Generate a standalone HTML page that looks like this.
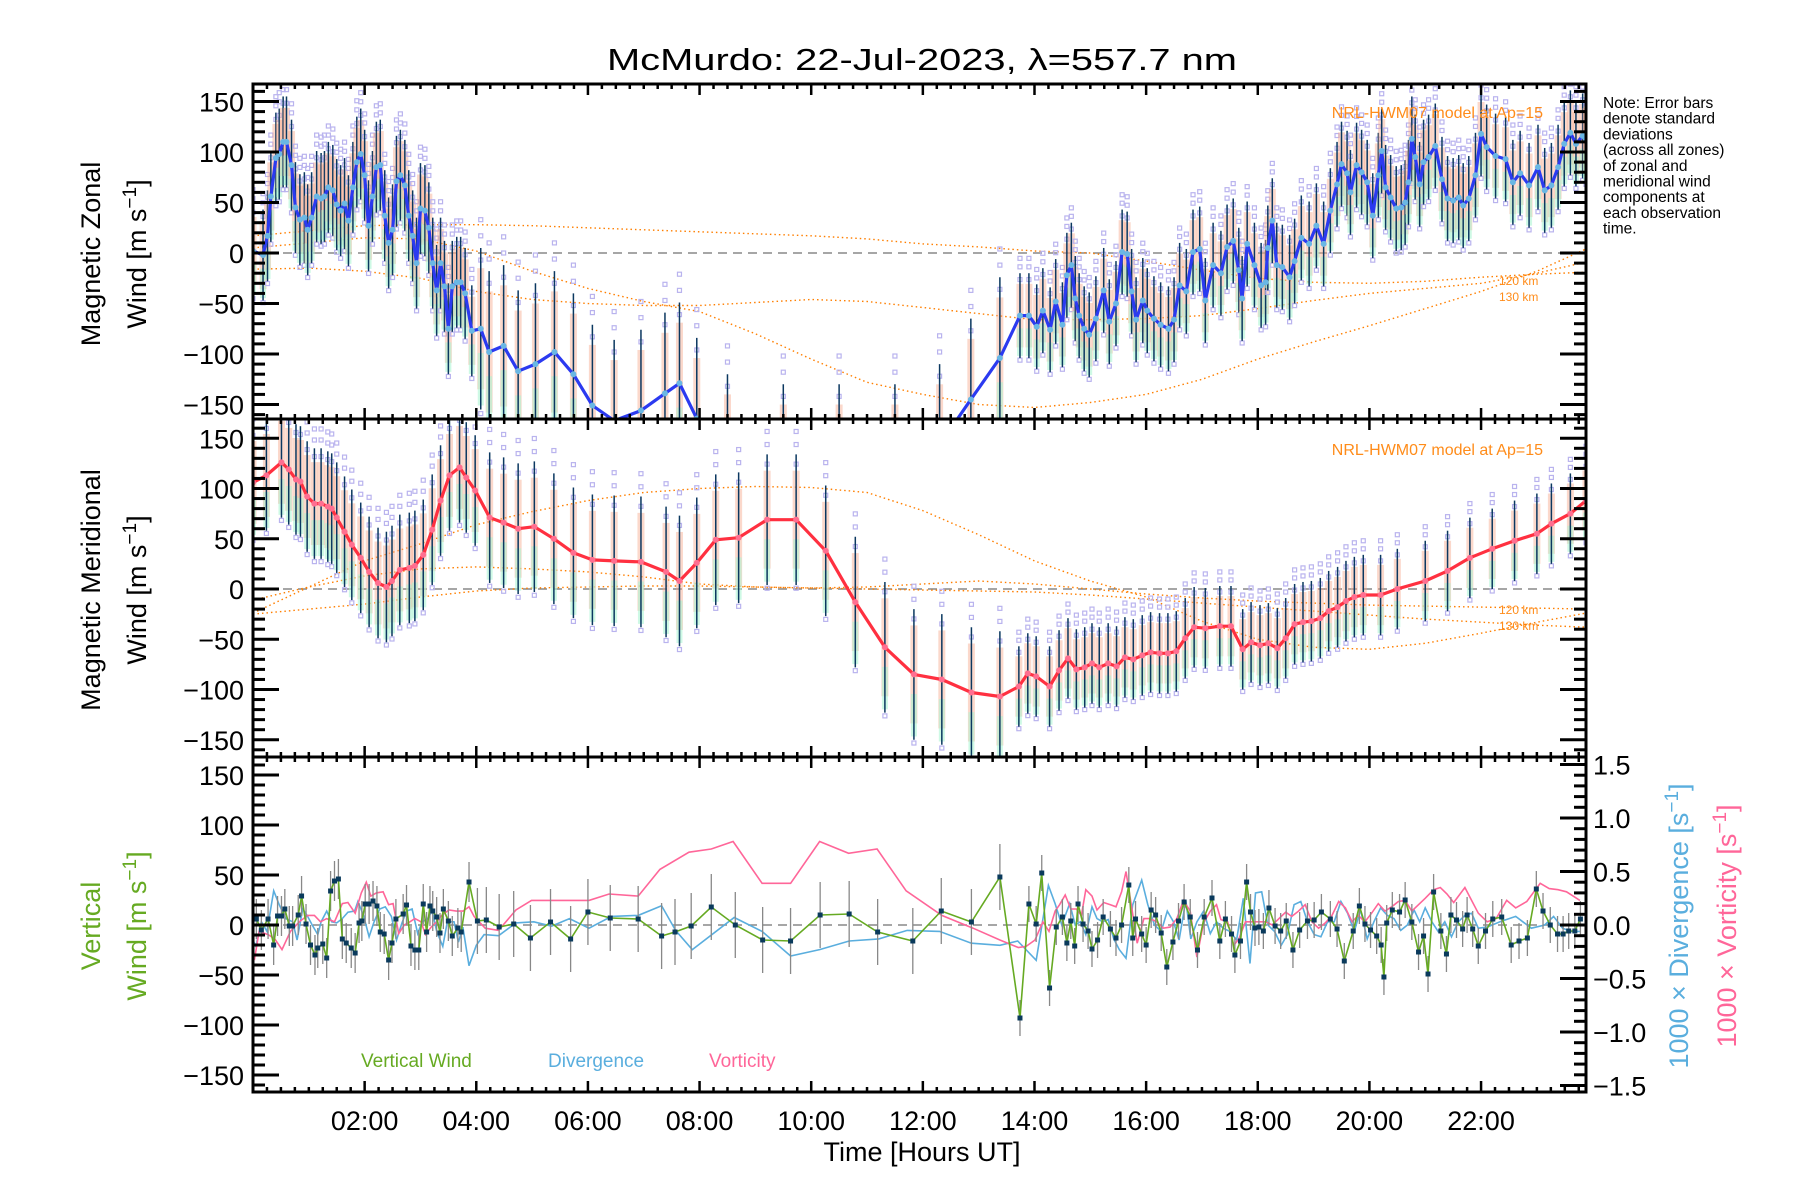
<!DOCTYPE html>
<html><head><meta charset="utf-8"><style>
html,body{margin:0;padding:0;background:#fff;}
svg{display:block;}
text{font-family:"Liberation Sans",sans-serif;}
</style></head><body>
<svg id="chart" xmlns="http://www.w3.org/2000/svg" width="1800" height="1200" viewBox="0 0 1800 1200">
<rect x="0" y="0" width="1800" height="1200" fill="#fff"/>
<text x="922" y="70" font-size="31" text-anchor="middle" textLength="630" lengthAdjust="spacingAndGlyphs">McMurdo: 22-Jul-2023, λ=557.7 nm</text>
<g id="layer"></g>
</svg>
<script>
// ---- data ----
const zonalHours=[0,0.18,0.26,0.32,0.41,0.47,0.54,0.6,0.69,0.76,0.84,0.92,0.98,1.05,1.14,1.22,1.28,1.35,1.43,1.5,1.57,1.64,1.71,1.79,1.86,1.93,2,2.07,2.14,2.21,2.28,2.36,2.43,2.5,2.57,2.64,2.72,2.79,2.86,2.93,3,3.08,3.15,3.22,3.29,3.36,3.43,3.5,3.57,3.65,3.72,3.8,3.92,4.08,4.23,4.49,4.75,5.06,5.4,5.74,6.08,6.47,6.95,7.38,7.64,7.95,8.5,9.5,10.5,11.5,12.3,12.86,13.38,13.74,13.9,14.04,14.15,14.28,14.38,14.5,14.58,14.66,14.73,14.8,14.89,14.98,15.1,15.24,15.34,15.46,15.57,15.66,15.74,15.82,15.94,16.02,16.14,16.26,16.4,16.5,16.6,16.72,16.84,16.96,17.06,17.2,17.34,17.45,17.56,17.66,17.72,17.81,17.94,18.06,18.14,18.18,18.26,18.34,18.44,18.57,18.66,18.78,18.92,19.05,19.18,19.3,19.42,19.5,19.6,19.66,19.77,19.86,19.96,20.06,20.16,20.22,20.29,20.38,20.48,20.57,20.64,20.7,20.76,20.82,20.9,20.97,21.06,21.18,21.3,21.4,21.5,21.6,21.68,21.78,21.9,22,22.1,22.26,22.44,22.57,22.7,22.86,23.02,23.14,23.26,23.38,23.49,23.6,23.7,23.82,23.88];
const zonalValues=[2,-2,17,56,94,98,110,110,87,45,33,35,23,35,56,54,56,65,62,48,42,49,32,65,90,98,77,27,56,85,87,37,10,23,71,77,67,37,17,-10,44,42,25,-10,-37,-10,-33,-75,-33,-29,-29,-40,-77,-75,-98,-92,-117,-110,-98,-120,-151,-166,-156,-139,-129,-164,-200,-210,-210,-210,-190,-145,-104,-62,-62,-73,-57,-76,-48,-71,-22,-12,-45,-62,-75,-81,-65,-37,-68,-50,1,-1,-38,-66,-47,-57,-65,-71,-75,-66,-32,-38,1,4,-47,-12,-20,6,12,-17,-45,9,-12,-32,-29,5,32,-12,-14,-24,-8,15,9,27,9,42,68,88,79,60,87,80,70,37,77,101,65,55,44,45,50,70,113,95,68,90,95,106,73,54,52,55,47,54,77,118,105,96,93,70,79,67,85,62,67,85,108,119,108,116,112];
const meridHours=[0,0.24,0.51,0.64,0.77,0.85,0.97,1.1,1.22,1.34,1.41,1.5,1.64,1.77,1.93,2.08,2.24,2.39,2.49,2.63,2.8,2.9,3.05,3.21,3.36,3.52,3.7,3.82,3.98,4.24,4.49,4.75,5.04,5.39,5.74,6.08,6.47,6.95,7.4,7.64,7.95,8.29,8.7,9.21,9.73,10.26,10.79,11.32,11.84,12.34,12.87,13.38,13.72,13.88,14.03,14.27,14.44,14.6,14.75,14.9,15.03,15.16,15.32,15.47,15.62,15.77,15.93,16.08,16.24,16.39,16.54,16.7,16.86,17.06,17.32,17.52,17.73,17.88,18.04,18.19,18.35,18.5,18.66,18.81,18.96,19.12,19.27,19.43,19.58,19.73,19.89,20.2,20.5,21,21.4,21.8,22.2,22.6,23,23.26,23.6,23.88];
const meridValues=[106,113,126,119,109,107,92,85,85,82,80,71,57,44,31,17,6,2,8,19,21,23,34,59,88,113,121,111,98,71,66,60,62,50,36,29,28,27,17,8,26,49,51,69,69,38,-13,-58,-85,-90,-103,-107,-97,-84,-87,-97,-81,-69,-80,-78,-74,-78,-74,-77,-68,-70,-66,-63,-64,-64,-62,-49,-38,-39,-37,-37,-60,-53,-56,-54,-59,-49,-35,-33,-32,-29,-22,-18,-12,-8,-6,-6,0,8,18,31,40,48,55,65,75,88];
const vertHours=[0.06,0.15,0.27,0.37,0.44,0.51,0.57,0.65,0.71,0.81,0.87,0.95,1.03,1.11,1.16,1.25,1.32,1.39,1.46,1.53,1.6,1.67,1.76,1.83,1.9,1.95,2.01,2.08,2.15,2.22,2.28,2.35,2.43,2.49,2.56,2.69,2.75,2.83,2.9,2.97,3.05,3.11,3.17,3.22,3.29,3.35,3.41,3.5,3.57,3.67,3.73,3.87,4.02,4.18,4.41,4.67,4.97,5.33,5.69,6,6.4,6.9,7.32,7.56,7.85,8.21,8.64,9.13,9.63,10.16,10.68,11.19,11.82,12.33,12.87,13.38,13.74,13.9,14.03,14.13,14.27,14.39,14.5,14.58,14.65,14.72,14.78,14.87,14.96,15.03,15.13,15.23,15.36,15.46,15.56,15.69,15.76,15.81,15.92,16,16.09,16.17,16.27,16.37,16.48,16.58,16.68,16.79,16.92,17.04,17.18,17.32,17.42,17.53,17.59,17.69,17.8,17.87,17.95,18.02,18.1,18.2,18.31,18.41,18.51,18.63,18.75,18.89,19.01,19.14,19.3,19.42,19.55,19.71,19.82,19.92,20.02,20.13,20.21,20.26,20.31,20.41,20.54,20.64,20.76,20.88,20.97,21.05,21.15,21.28,21.38,21.46,21.56,21.67,21.75,21.85,21.95,22.08,22.21,22.37,22.54,22.68,22.83,22.99,23.11,23.24,23.37,23.47,23.57,23.68,23.78];
const vertValues=[6,-5,6,-20,9,9,16,-1,-1,10,29,1,-20,-30,-23,-19,-33,34,44,46,-14,-18,-23,-28,2,4,21,21,24,19,-7,-9,-35,-18,6,11,20,-21,-25,-25,21,-7,19,14,8,-8,16,4,-11,-3,-7,43,4,5,-2,1,-13,3,-14,13,7,6,-11,-7,-1,18,0,-15,-16,10,11,-7,-16,14,3,48,-93,21,1,52,-63,-2,8,-18,4,-21,21,1,-6,-24,-15,8,-4,-13,0,40,-13,6,-9,-20,15,10,-8,-42,-17,4,23,8,-25,8,27,-16,6,-9,-30,-16,43,13,-3,-2,-6,17,-1,-6,4,-25,-5,4,5,13,6,-4,-36,-6,19,1,-5,-11,-20,-52,2,15,13,25,3,-27,-11,-49,33,-6,-29,10,5,-4,10,-4,-21,-6,6,8,-20,-16,-13,36,14,0,-9,-9,-6,-6,6];
const divHours=[0,0.05,0.15,0.25,0.37,0.47,0.59,0.71,0.79,0.89,0.97,1.06,1.16,1.22,1.32,1.41,1.5,1.6,1.7,1.82,1.88,1.98,2.08,2.17,2.27,2.37,2.48,2.57,2.67,2.75,2.85,2.95,3.03,3.13,3.21,3.29,3.4,3.48,3.6,3.68,3.76,3.87,4,4.14,4.4,4.71,5.03,5.35,5.67,6.02,6.42,6.9,7.32,7.57,7.87,8.62,9.12,9.63,10.15,10.68,11.21,11.72,12.3,12.87,13.38,13.7,14.03,14.25,14.37,14.49,14.63,14.73,14.82,14.92,15.03,15.12,15.22,15.32,15.42,15.52,15.64,15.76,15.92,16.03,16.15,16.27,16.38,16.49,16.59,16.71,16.8,16.91,17.03,17.15,17.26,17.38,17.5,17.62,17.74,17.86,17.96,18.07,18.18,18.3,18.42,18.53,18.65,18.77,18.89,19.01,19.13,19.25,19.37,19.49,19.61,19.73,19.84,19.96,20.08,20.2,20.32,20.44,20.56,20.68,20.8,20.9,21,21.12,21.23,21.35,21.47,21.59,21.71,21.83,21.95,22.11,22.34,22.62,22.9,23.14,23.3,23.46,23.61,23.77];
const divValues=[-0.14,-0.2,0.03,-0.06,0.32,0.19,0.06,0.03,-0.14,0.15,0.09,0,-0.09,0.03,0.13,0.03,0.02,0.06,0.12,0.13,0.22,0.09,-0.11,0.03,0.15,0.17,0.08,-0.14,0.02,0.13,0.15,-0.08,0.03,0.06,0.13,-0.06,-0.2,0.03,0.03,-0.16,-0.02,-0.38,-0.19,-0.09,-0.1,0.02,0.03,-0.01,0.06,-0.03,0.08,0.09,0.18,-0.05,-0.23,0.07,-0.06,-0.29,-0.23,-0.15,-0.13,-0.05,-0.06,-0.17,-0.19,-0.15,-0.33,0.37,0.2,0,0.2,0,0.03,-0.09,0.17,0.06,0.03,0.05,-0.13,-0.23,-0.31,0.19,0.42,0.19,0,-0.06,0.13,0.03,-0.14,0.23,-0.13,0.03,0.13,-0.08,0.03,-0.03,-0.06,-0.14,0.25,-0.36,0.3,0.31,0,-0.06,-0.19,-0.09,0.19,0.22,0.03,-0.09,-0.11,0.03,0.03,0.22,0.11,-0.06,0.14,-0.13,0.03,0.16,0.09,0.06,-0.05,0,0.14,0.03,0.16,0.03,-0.06,0.03,-0.11,0.03,0.09,0.11,-0.03,-0.02,0.03,0.08,-0.03,0,0.08,-0.03,-0.06,-0.06];
const vortHours=[0,0.03,0.11,0.27,0.39,0.52,0.67,0.83,0.98,1.1,1.21,1.32,1.46,1.6,1.7,1.83,1.94,2.03,2.11,2.21,2.33,2.43,2.51,2.61,2.71,2.81,2.9,3.01,3.09,3.19,3.29,3.38,3.51,3.64,3.76,3.87,3.96,4.16,4.4,4.71,4.99,6.02,6.38,6.9,7.29,7.81,8.21,8.6,9.12,9.63,10.15,10.67,11.18,11.7,12.34,12.9,13.38,13.71,13.85,14.01,14.15,14.26,14.37,14.45,14.55,14.65,14.75,14.84,14.92,15.03,15.12,15.24,15.36,15.46,15.56,15.64,15.74,15.84,15.96,16.07,16.19,16.31,16.43,16.55,16.67,16.79,16.91,17.03,17.15,17.26,17.34,17.46,17.57,17.66,17.78,17.9,18.02,18.14,18.26,18.38,18.5,18.61,18.73,18.85,18.97,19.09,19.21,19.33,19.45,19.57,19.69,19.8,19.92,20.04,20.16,20.28,20.4,20.52,20.64,20.76,20.88,21,21.15,21.27,21.39,21.51,21.71,21.83,21.95,22.11,22.27,22.46,22.62,22.82,23.06,23.22,23.38,23.53,23.77];
const vortValues=[-0.28,-0.31,-0.06,-0.09,-0.13,-0.23,-0.06,0.03,0.09,0.09,0.03,0.06,0.03,0.2,0.21,0.11,0.3,0.4,0.27,0.3,0.31,0.19,0.2,-0.08,0,0.03,0.06,0.03,-0.09,-0.02,0.03,0.09,0.14,0.13,0.13,0.17,0.08,-0.03,-0.05,0.14,0.23,0.23,0.29,0.27,0.52,0.68,0.71,0.78,0.39,0.39,0.78,0.67,0.71,0.32,0.09,-0.03,-0.14,-0.21,-0.2,-0.14,0.03,-0.06,0.13,0.19,0.28,0.15,0.15,0.09,0.33,0.27,0.14,0.21,0.19,0.17,0.31,0.5,0.17,-0.17,0.06,0.06,0.03,-0.03,-0.02,0.06,0.23,0.13,-0.3,0.02,0.13,0.19,0.05,0.03,-0.19,-0.13,0.03,0.03,0.03,0.03,0,0.06,0.12,0.08,0.13,0.19,0.03,-0.03,0.02,0.09,0.22,0.16,0.03,0.09,0.03,0.11,0.2,0.13,0.17,0.22,0.23,0.13,0.19,0.25,0.33,0.35,0.29,0.21,0.35,0.23,0.11,0.03,0.06,0.23,0.16,0.22,0.39,0.34,0.33,0.31,0.23];
// model curves (NRL-HWM07)
const modelHours=[0,1,2,3,4,5,6,7,8,9,10,11,12,13,14,15,16,17,18,19,20,21,22,23,23.88];
const zonalModelA=[17,22,27,28,28,27,25,23,21,19,17,14,9,6,2,0,-8,-17,-25,-29,-30,-28,-24,-21,-19];
const zonalModelB=[-16,-15,-18,-25,-38,-46,-50,-52,-52,-49,-46,-48,-54,-60,-66,-66,-65,-62,-55,-47,-40,-35,-30,-20,-9];
const zonalModelC=[5,10,15,14,2,-18,-35,-48,-58,-80,-105,-128,-140,-150,-153,-148,-140,-125,-105,-88,-72,-55,-38,-18,4];
const meridModelD=[-11,2,13,20,22,20,17,12,5,2,1,2,5,8,5,0,-5,-9,-12,-14,-16,-17,-18,-19,-20];
const meridModelE=[-24,2,28,45,64,77,88,96,100,102,101,96,78,54,28,8,-8,-32,-50,-58,-60,-54,-44,-33,-24];
const meridModelF=[-25,-20,-15,-8,-2,1,2,3,3,2,1,0,-1,-2,-3,-6,-10,-14,-18,-22,-26,-30,-33,-36,-38];
const leftTicks=[150,100,50,0,-50,-100,-150];
const leftTickLabels=["150","100","50","0","−50","−100","−150"];
const rightTicks=[1.5,1.0,0.5,0.0,-0.5,-1.0,-1.5];
const rightTickLabels=["1.5","1.0","0.5","0.0","−0.5","−1.0","−1.5"];
const xTickHours=[2,4,6,8,10,12,14,16,18,20,22];
const xTickLabels=["02:00","04:00","06:00","08:00","10:00","12:00","14:00","16:00","18:00","20:00","22:00"];

// ---- geometry ----
const NS="http://www.w3.org/2000/svg";
const L=253,R=1586,H1=23.88;
const P=[{top:84,bot:419,zero:253,k:1.01},{top:419,bot:757,zero:589,k:1.005},{top:757,bot:1092,zero:925,k:1.0}];
const KR=107;
function xs(h){return L+h/H1*(R-L);}
function ys(p,v){return P[p].zero-v*P[p].k;}
function yr(v){return P[2].zero-v*KR;}
const layer=document.getElementById('layer');
function mk(tag,attrs,parent){const e=document.createElementNS(NS,tag);for(const k in attrs)e.setAttribute(k,attrs[k]);(parent||layer).appendChild(e);return e;}
const defs=mk('defs',{});
P.forEach((p,i)=>{const c=mk('clipPath',{id:'clip'+i},defs);mk('rect',{x:L,y:p.top,width:R-L,height:p.bot-p.top},c);});
function stdZ(h){return (h<4)?45:(h<13.6?80:42);}
function stdM(h){return (h<4)?55:(h<13.6?65:40);}
function stdV(h){return (h<4)?20:(h<13.6?33:18);}

function windPanel(pi,hours,vals,stdFn,lineColor,markColor,name){
  const g=mk('g',{'clip-path':'url(#clip'+pi+')'});
  
  
  for(let i=0;i<hours.length;i++){
    const h=hours[i],v=vals[i],s=stdFn(h),x=xs(h);
    const band=mk('rect',{x:x-3.5,y:ys(pi,v+0.75*s),width:7,height:1.5*s*P[pi].k,fill:'#f7a98c','fill-opacity':0.45},g);
    
    
    const band2=mk('rect',{x:x-3,y:ys(pi,v-0.3*s),width:6,height:0.65*s*P[pi].k,fill:'#aef5d4','fill-opacity':0.6},g);
    
    
    [1.15,0.85,-1.05,1.35].forEach(f=>{
      const sq=mk('rect',{x:x-2,y:ys(pi,v+f*s)-2,width:4,height:4,fill:'none',stroke:'#b9b3ee','stroke-width':1.2},g);
      
      
    });
    const eb=mk('line',{x1:x,x2:x,y1:ys(pi,v+s),y2:ys(pi,v-s),stroke:'#0b3860','stroke-width':1.5},g);
    
    
  }
  const pts=hours.map((h,i)=>xs(h).toFixed(1)+','+ys(pi,vals[i]).toFixed(1)).join(' ');
  const pl=mk('polyline',{points:pts,fill:'none',stroke:lineColor,'stroke-width':3.2,'stroke-linejoin':'round'},g);
  
  
  hours.forEach((h,i)=>{
    const c=mk('circle',{cx:xs(h),cy:ys(pi,vals[i]),r:3,fill:markColor},g);
    
    
  });
}
function modelCurve(pi,vals,name){
  const g=mk('g',{'clip-path':'url(#clip'+pi+')'});
  const pts=modelHours.map((h,i)=>xs(h).toFixed(1)+','+ys(pi,vals[i]).toFixed(1)).join(' ');
  const pl=mk('polyline',{points:pts,fill:'none',stroke:'#ff7f00','stroke-width':1.4,'stroke-dasharray':'1.5 3'},g);
  
  
}
// zero lines
P.forEach((p,i)=>{
  const z=mk('line',{x1:L,x2:R,y1:p.zero,y2:p.zero,stroke:'#888','stroke-width':1.5,'stroke-dasharray':'9 6'});
  
  
});
modelCurve(0,zonalModelA,'zonal-model-curve-a');
modelCurve(0,zonalModelB,'zonal-model-curve-b');
modelCurve(0,zonalModelC,'zonal-model-curve-c');
modelCurve(1,meridModelD,'meridional-model-curve-d');
modelCurve(1,meridModelE,'meridional-model-curve-e');
modelCurve(1,meridModelF,'meridional-model-curve-f');
windPanel(0,zonalHours,zonalValues,stdZ,'#2b3af0','#6ab7e4','zonal');
windPanel(1,meridHours,meridValues,stdM,'#ff3040','#ff6f90','meridional');

// panel 3
(function(){
  const g=mk('g',{'clip-path':'url(#clip2)'});
  
  
  const dp=divHours.map((h,i)=>xs(h).toFixed(1)+','+yr(divValues[i]).toFixed(1)).join(' ');
  const d=mk('polyline',{points:dp,fill:'none',stroke:'#5aaede','stroke-width':1.6},g);
  
  
  const vp=vortHours.map((h,i)=>xs(h).toFixed(1)+','+yr(vortValues[i]).toFixed(1)).join(' ');
  const w=mk('polyline',{points:vp,fill:'none',stroke:'#ff6699','stroke-width':1.6},g);
  
  
  vertHours.forEach((h,i)=>{
    const s=stdV(h);
    const eb=mk('line',{x1:xs(h),x2:xs(h),y1:ys(2,vertValues[i]+s),y2:ys(2,vertValues[i]-s),stroke:'#888','stroke-width':1.3},g);
    
    
  });
  const gp=vertHours.map((h,i)=>xs(h).toFixed(1)+','+ys(2,vertValues[i]).toFixed(1)).join(' ');
  const gl=mk('polyline',{points:gp,fill:'none',stroke:'#66aa22','stroke-width':1.6},g);
  
  
  vertHours.forEach((h,i)=>{
    const m=mk('rect',{x:xs(h)-2.5,y:ys(2,vertValues[i])-2.5,width:5,height:5,fill:'#0a3a5c'},g);
    
    
  });
})();

// axes
function txt(s,attrs,name){const t=mk('text',attrs);t.textContent=s;return t;}
P.forEach((p,pi)=>{
  const fr=mk('rect',{x:L,y:p.top,width:R-L,height:p.bot-p.top,fill:'none',stroke:'#000','stroke-width':3});
  
  
  for(let v=-160;v<=160;v+=10){
    const y=ys(pi,v); if(y<p.top+1||y>p.bot-1)continue;
    const len=(v%50===0)?26:12;
    mk('line',{x1:L,x2:L+len,y1:y,y2:y,stroke:'#000','stroke-width':3});
    if(pi<2) mk('line',{x1:R,x2:R-len,y1:y,y2:y,stroke:'#000','stroke-width':3});
  }
  leftTicks.forEach((v,i)=>{
    txt(leftTickLabels[i],{x:244,y:ys(pi,v)+10,'font-size':27,'text-anchor':'end'},'y-tick-label');
  });
  for(let q=0;q<=H1*4;q++){
    const h=q/4,x=xs(h);
    const major=(q%8===0)&&q>0;
    const len=major?11:5;
    mk('line',{x1:x,x2:x,y1:p.top,y2:p.top+len,stroke:'#000','stroke-width':2.5});
    mk('line',{x1:x,x2:x,y1:p.bot,y2:p.bot-len,stroke:'#000','stroke-width':2.5});
  }
});
for(let v=-15;v<=15;v++){
  const y=yr(v/10);
  const len=(v%5===0)?26:12;
  mk('line',{x1:R,x2:R-len,y1:y,y2:y,stroke:'#000','stroke-width':3});
}
rightTicks.forEach((v,i)=>{
  txt(rightTickLabels[i],{x:1593,y:yr(v)+10,'font-size':27},'right-tick-label');
});
xTickHours.forEach((h,i)=>{
  txt(xTickLabels[i],{x:xs(h),y:1130,'font-size':27,'text-anchor':'middle'},'x-tick-label');
});
txt('Time [Hours UT]',{x:922,y:1161,'font-size':27,'text-anchor':'middle'},'x-axis-title');

function ytitle(lines,cy,color,name){
  lines.forEach((l,i)=>{
    const t=mk('text',{transform:'translate('+l.x+','+cy+') rotate(-90)','font-size':27,'text-anchor':'middle',fill:color});
    
    
    t.innerHTML=l.s;
  });
}
const sup='[m s<tspan baseline-shift="super" font-size="19">−1</tspan>]';
ytitle([{x:100,s:'Magnetic Zonal'},{x:146,s:'Wind '+sup}],254,'#000','zonal-y-axis-title');
ytitle([{x:100,s:'Magnetic Meridional'},{x:146,s:'Wind '+sup}],590,'#000','meridional-y-axis-title');
ytitle([{x:100,s:'Vertical'},{x:146,s:'Wind '+sup}],926,'#66aa22','vertical-y-axis-title');
ytitle([{x:1688,s:'1000 × Divergence [s<tspan baseline-shift="super" font-size="19">−1</tspan>]'}],926,'#5aaede','divergence-axis-title');
ytitle([{x:1736,s:'1000 × Vorticity [s<tspan baseline-shift="super" font-size="19">−1</tspan>]'}],926,'#ff6699','vorticity-axis-title');

txt('NRL-HWM07 model at Ap=15',{x:1543,y:118,'font-size':16,fill:'#ff8c1a','text-anchor':'end'},'model-label-zonal');
txt('NRL-HWM07 model at Ap=15',{x:1543,y:455,'font-size':16,fill:'#ff8c1a','text-anchor':'end'},'model-label-meridional');
txt('120 km',{x:1499,y:285,'font-size':12,fill:'#ff8c1a'},'model-120km-label-zonal');
txt('130 km',{x:1499,y:301,'font-size':12,fill:'#ff8c1a'},'model-130km-label-zonal');
txt('120 km',{x:1499,y:614,'font-size':12,fill:'#ff8c1a'},'model-120km-label-meridional');
txt('130 km',{x:1499,y:630,'font-size':12,fill:'#ff8c1a'},'model-130km-label-meridional');
txt('Vertical Wind',{x:361,y:1067,'font-size':19,fill:'#66aa22'},'legend-vertical-wind');
txt('Divergence',{x:548,y:1067,'font-size':19,fill:'#5aaede'},'legend-divergence');
txt('Vorticity',{x:709,y:1067,'font-size':19,fill:'#ff6699'},'legend-vorticity');
const note=['Note: Error bars','denote standard','deviations','(across all zones)','of zonal and','meridional wind','components at','each observation','time.'];
note.forEach((s,i)=>txt(s,{x:1603,y:108+i*15.7,'font-size':15.5},'note-line'));
</script>
</body></html>
